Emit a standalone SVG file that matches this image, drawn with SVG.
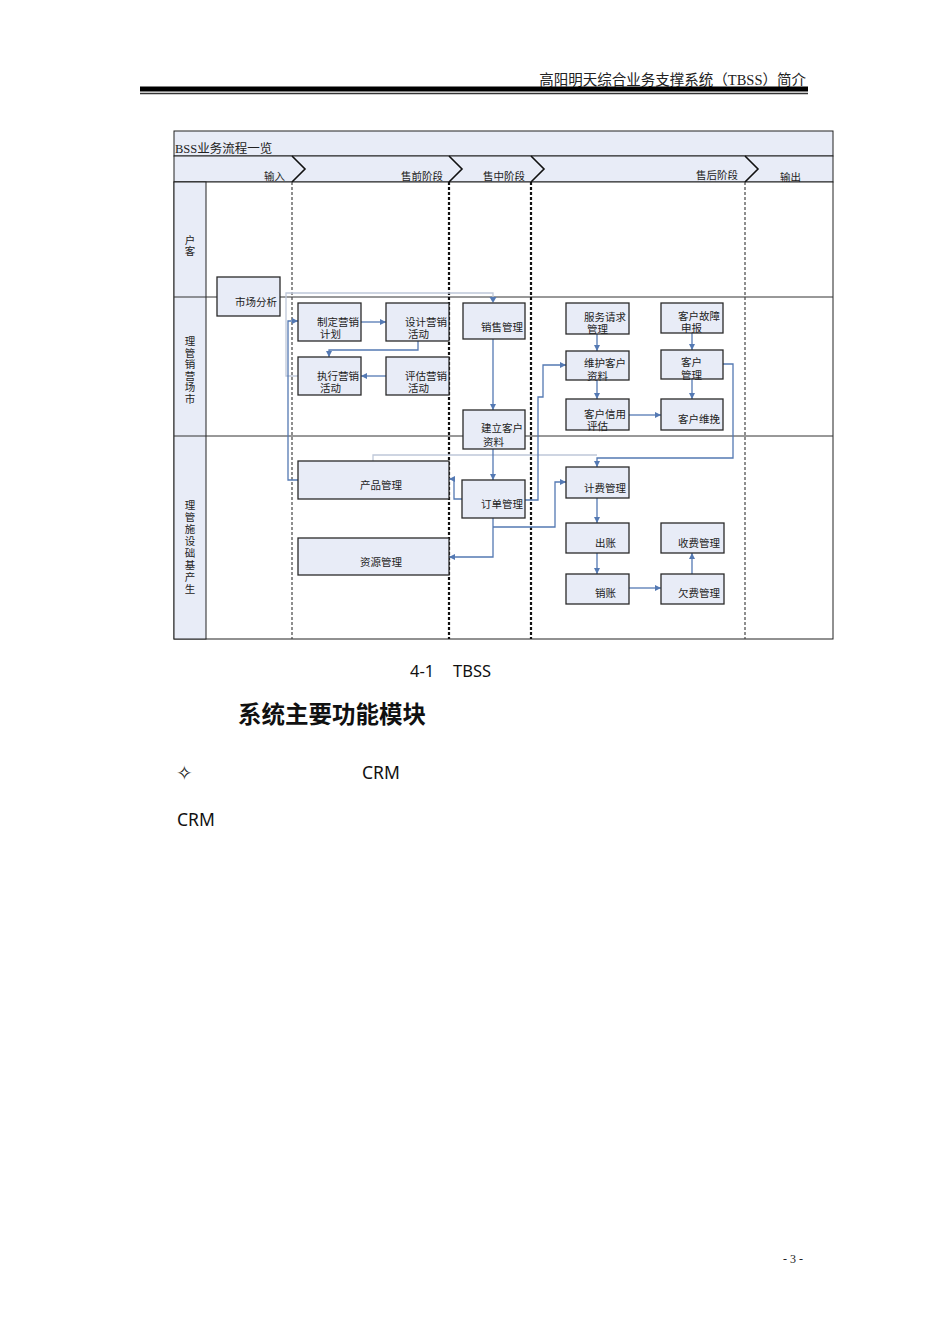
<svg xmlns="http://www.w3.org/2000/svg" width="950" height="1344" viewBox="0 0 950 1344">
<defs>
<style>
.cjk{font-family:"Noto Sans CJK SC","Liberation Serif",sans-serif;fill:#222}
.nt{font-size:10.5px}
.ln{font-size:10.5px;writing-mode:vertical-rl}
.node{fill:#E8ECF7;stroke:#2a2a2a;stroke-width:1.3}
.band{fill:#E8ECF7;stroke:#222;stroke-width:1}
.conn{fill:none;stroke:#5479B3;stroke-width:1.3}
.conn2{fill:none;stroke:#BFC8D9;stroke-width:1.3}
.dashA{stroke:#444;stroke-width:1.2;stroke-dasharray:3,2}
.dashB{stroke:#111;stroke-width:2.2;stroke-dasharray:3,2}
.lane{stroke:#333;stroke-width:1}
.sans{font-family:"Noto Sans","Open Sans",sans-serif;fill:#111}
</style>
<marker id="ah" viewBox="0 0 10 10" refX="10" refY="5" markerWidth="6" markerHeight="6" orient="auto" markerUnits="userSpaceOnUse">
<path d="M0,0 L10,5 L0,10 z" fill="#5479B3"/>
</marker>
</defs>
<rect x="0" y="0" width="950" height="1344" fill="#fff"/>

<g id="page-header">
<text x="806" y="85" text-anchor="end" class="cjk" style="font-size:14.5px;font-family:'Liberation Serif','Noto Sans CJK SC',serif">高阳明天综合业务支撑系统（TBSS）简介</text>
<rect x="140" y="86.5" width="668" height="5" fill="#000"/>
<line x1="140" y1="93.5" x2="808" y2="93.5" stroke="#333" stroke-width="1.5"/>
</g>

<g id="frame">
<rect x="174" y="131" width="659" height="25" class="band"/>
<rect x="174" y="156" width="659" height="26" class="band"/>
<text x="175" y="153" class="cjk" style="font-size:12.5px;font-family:'Liberation Serif','Noto Sans CJK SC',serif">BSS业务流程一览</text>
<rect x="174" y="182" width="659" height="457" fill="#fff" stroke="#222" stroke-width="1"/>
<rect x="174" y="182" width="32" height="457" fill="#E8ECF7" stroke="#222" stroke-width="1"/>
<line x1="174" y1="297" x2="833" y2="297" class="lane"/>
<line x1="174" y1="436" x2="833" y2="436" class="lane"/>
</g>

<g id="phases">
<polyline points="292,156 305,169 292,182" fill="#E8ECF7" stroke="#111" stroke-width="1.6"/>
<polyline points="449,156 462,169 449,182" fill="#E8ECF7" stroke="#111" stroke-width="1.6"/>
<polyline points="531,156 544,169 531,182" fill="#E8ECF7" stroke="#111" stroke-width="1.6"/>
<polyline points="745,156 758,169 745,182" fill="#E8ECF7" stroke="#111" stroke-width="1.6"/>
<text x="285" y="180" text-anchor="end" class="cjk nt">输入</text>
<text x="443" y="180" text-anchor="end" class="cjk nt">售前阶段</text>
<text x="483" y="180" class="cjk nt">售中阶段</text>
<text x="738" y="179" text-anchor="end" class="cjk nt">售后阶段</text>
<text x="780" y="181" class="cjk nt">输出</text>
<line x1="292" y1="182" x2="292" y2="639" class="dashA"/>
<line x1="449" y1="182" x2="449" y2="639" class="dashB"/>
<line x1="531" y1="182" x2="531" y2="639" class="dashB"/>
<line x1="745" y1="182" x2="745" y2="639" class="dashA"/>
</g>

<g id="lane-labels">
<text x="190" y="234.75" class="cjk ln" style="letter-spacing:0.5px">户客</text>
<text x="190" y="335.75" class="cjk ln" style="letter-spacing:1.1px">理管销营场市</text>
<text x="190" y="499.75" class="cjk ln" style="letter-spacing:1.5px">理管施设础基产生</text>
</g>

<g id="connectors">
<path class="conn2" d="M298,376 H286 V293 H493 V301"/>
<path d="M489.5,297 L493,303 L496.5,297 z" fill="#5479B3"/>
<path class="conn2" d="M373,461 V455 H597"/>
<path class="conn" d="M361,322 H386" marker-end="url(#ah)"/>
<path class="conn" d="M418,341 V350 H329 V357" marker-end="url(#ah)"/>
<path class="conn" d="M386,376 H361" marker-end="url(#ah)"/>
<path class="conn" d="M298,480 H288 V321 H298" marker-end="url(#ah)"/>
<path class="conn" d="M493,339 V410" marker-end="url(#ah)"/>
<path class="conn" d="M493,449 V480" marker-end="url(#ah)"/>
<path class="conn" d="M462,499 H454 V479 H449" marker-end="url(#ah)"/>
<path class="conn" d="M493,518 V557 H449" marker-end="url(#ah)"/>
<path class="conn" d="M493,527 H555 V482 H566" marker-end="url(#ah)"/>
<path class="conn" d="M525,500 H538 V397 H543 V365 H566" marker-end="url(#ah)"/>
<path class="conn" d="M597,334 V351" marker-end="url(#ah)"/>
<path class="conn" d="M597,380 V399" marker-end="url(#ah)"/>
<path class="conn" d="M692,333 V350" marker-end="url(#ah)"/>
<path class="conn" d="M692,379 V399" marker-end="url(#ah)"/>
<path class="conn" d="M629,415 H661" marker-end="url(#ah)"/>
<path class="conn" d="M723,364 H733 V458 H597 V467" marker-end="url(#ah)"/>
<path class="conn" d="M597,498 V523" marker-end="url(#ah)"/>
<path class="conn" d="M597,553 V574" marker-end="url(#ah)"/>
<path class="conn" d="M629,588 H661" marker-end="url(#ah)"/>
<path class="conn" d="M692,574 V553" marker-end="url(#ah)"/>
</g>

<g id="n-market"><rect x="217" y="277" width="63" height="39" class="node"/><text x="235" y="306" class="cjk nt">市场分析</text></g>
<g id="n-plan"><rect x="298" y="303" width="63" height="38" class="node"/><text class="cjk nt"><tspan x="317" y="325.5">制定营销</tspan><tspan x="320" y="338">计划</tspan></text></g>
<g id="n-design"><rect x="386" y="303" width="63" height="38" class="node"/><text class="cjk nt"><tspan x="405" y="325.5">设计营销</tspan><tspan x="408" y="338">活动</tspan></text></g>
<g id="n-exec"><rect x="298" y="357" width="63" height="38" class="node"/><text class="cjk nt"><tspan x="317" y="379.5">执行营销</tspan><tspan x="320" y="392">活动</tspan></text></g>
<g id="n-eval"><rect x="386" y="357" width="63" height="38" class="node"/><text class="cjk nt"><tspan x="405" y="379.5">评估营销</tspan><tspan x="408" y="392">活动</tspan></text></g>
<g id="n-sales"><rect x="463" y="303" width="62" height="36" class="node"/><text x="481" y="330.5" class="cjk nt">销售管理</text></g>
<g id="n-custdata"><rect x="463" y="410" width="62" height="39" class="node"/><text class="cjk nt"><tspan x="481" y="432">建立客户</tspan><tspan x="483" y="445.5">资料</tspan></text></g>
<g id="n-product"><rect x="298" y="461" width="151" height="38" class="node"/><text x="360" y="489" class="cjk nt">产品管理</text></g>
<g id="n-resource"><rect x="298" y="538" width="151" height="37" class="node"/><text x="360" y="565.5" class="cjk nt">资源管理</text></g>
<g id="n-order"><rect x="462" y="480" width="63" height="38" class="node"/><text x="481" y="508" class="cjk nt">订单管理</text></g>
<g id="n-service"><rect x="566" y="303" width="63" height="31" class="node"/><text class="cjk nt"><tspan x="584" y="320.5">服务请求</tspan><tspan x="587" y="333">管理</tspan></text></g>
<g id="n-fault"><rect x="661" y="303" width="62" height="30" class="node"/><text class="cjk nt"><tspan x="678" y="319.5">客户故障</tspan><tspan x="681" y="332">申报</tspan></text></g>
<g id="n-maintain"><rect x="566" y="351" width="63" height="29" class="node"/><text class="cjk nt"><tspan x="584" y="367">维护客户</tspan><tspan x="587" y="379.5">资料</tspan></text></g>
<g id="n-custmgmt"><rect x="661" y="350" width="62" height="29" class="node"/><text class="cjk nt"><tspan x="681" y="366">客户</tspan><tspan x="681" y="379">管理</tspan></text></g>
<g id="n-credit"><rect x="566" y="399" width="63" height="31" class="node"/><text class="cjk nt"><tspan x="584" y="417.5">客户信用</tspan><tspan x="587" y="430">评估</tspan></text></g>
<g id="n-retain"><rect x="661" y="399" width="62" height="31" class="node"/><text x="678" y="423" class="cjk nt">客户维挽</text></g>
<g id="n-billing"><rect x="566" y="467" width="63" height="31" class="node"/><text x="584" y="492" class="cjk nt">计费管理</text></g>
<g id="n-bill"><rect x="566" y="523" width="63" height="30" class="node"/><text x="595" y="547" class="cjk nt">出账</text></g>
<g id="n-collect"><rect x="661" y="523" width="63" height="30" class="node"/><text x="678" y="547" class="cjk nt">收费管理</text></g>
<g id="n-writeoff"><rect x="566" y="574" width="63" height="30" class="node"/><text x="595" y="597" class="cjk nt">销账</text></g>
<g id="n-arrears"><rect x="661" y="574" width="63" height="30" class="node"/><text x="678" y="597" class="cjk nt">欠费管理</text></g>

<g id="body-text">
<text x="410" y="677" class="sans" style="font-size:16.5px">4-1</text>
<text x="453" y="677" class="sans" style="font-size:16.5px">TBSS</text>
<text x="238" y="723" class="cjk" style="font-size:23.5px;font-weight:bold;fill:#111">系统主要功能模块</text>
<text x="176" y="780" class="cjk" style="font-size:20px">✧</text>
<text x="362" y="779" class="sans" style="font-size:17.5px">CRM</text>
<text x="177" y="826" class="sans" style="font-size:17.5px">CRM</text>
<text x="783" y="1263" style="font-size:12px;font-family:'Liberation Serif',serif;fill:#222">- 3 -</text>
</g>
</svg>
